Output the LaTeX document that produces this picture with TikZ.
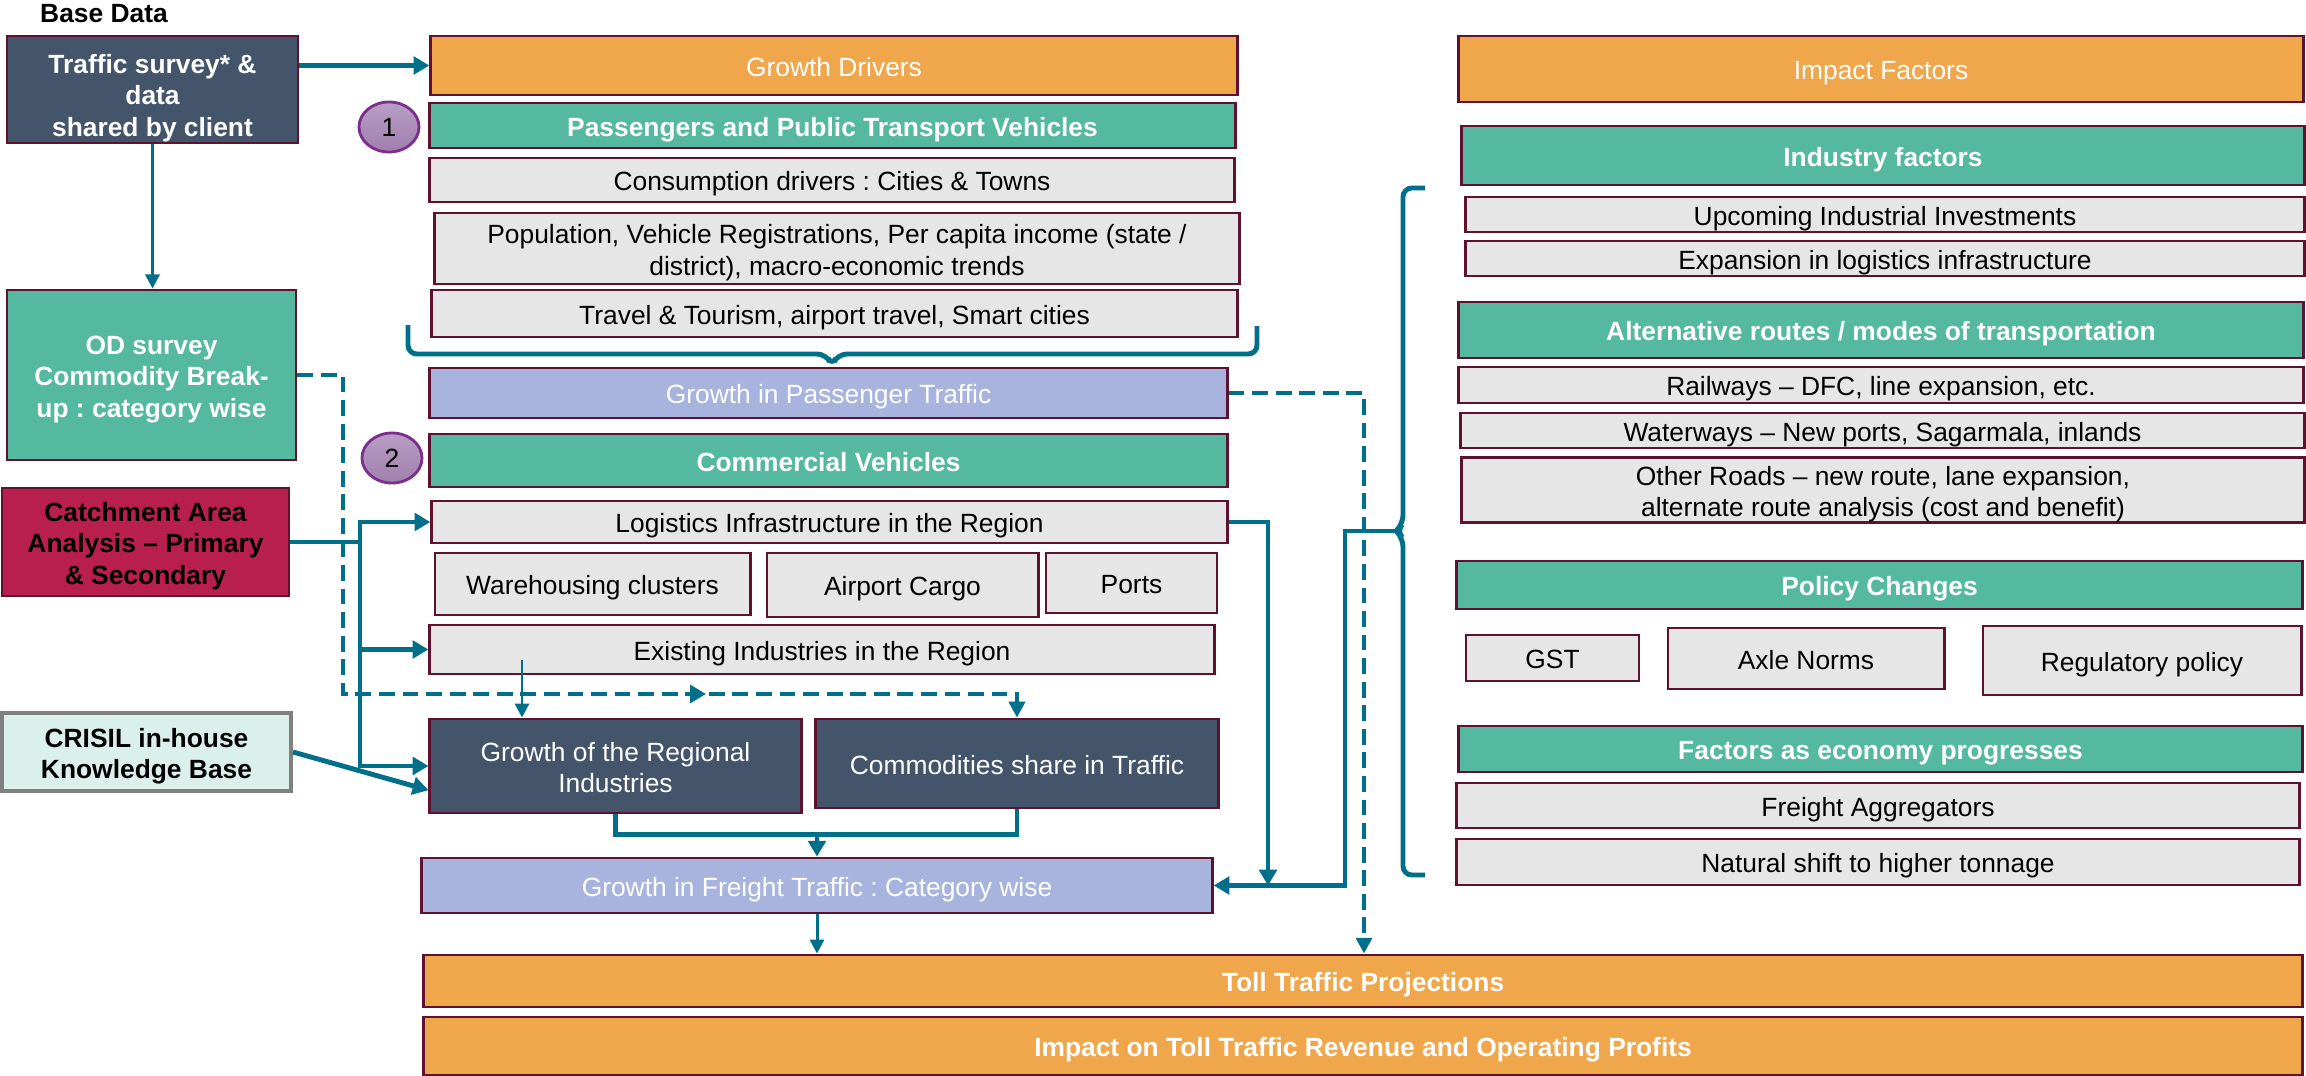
\documentclass[tikz,border=0pt]{standalone}
\usepackage{fontspec}
\setmainfont{Liberation Sans}
\usetikzlibrary{arrows.meta,shapes.geometric,calc,decorations.markings}
\frenchspacing
\definecolor{bord}{RGB}{94,18,48}
\definecolor{orng}{RGB}{240,166,75}
\definecolor{tealc}{RGB}{84,185,158}
\definecolor{lgray}{RGB}{231,230,230}
\definecolor{lav}{RGB}{168,180,222}
\definecolor{slate}{RGB}{68,84,106}
\definecolor{crim}{RGB}{184,31,78}
\definecolor{mint}{RGB}{220,240,235}
\definecolor{gborder}{RGB}{128,128,128}
\definecolor{conc}{RGB}{0,111,138}
\definecolor{circtop}{RGB}{184,158,196}
\definecolor{circbot}{RGB}{160,127,174}
\definecolor{circb}{RGB}{123,46,140}
\newcommand\fs{\fontsize{7.5}{9}\selectfont}
\newcommand\sttop{\rule{0pt}{7.92pt}}
\newcommand\stbot{\rule[-1.7pt]{0pt}{1.7pt}}
\newcommand\sttopb{\rule{0pt}{10.47pt}}
\newcommand\bx[7]{\node[#1, minimum width={(#5-#3)*0.28453pt}, minimum height={(#6-#4)*0.28453pt}] (#2) at ({(#3+#5)/2},{(#4+#6)/2}) {\sttop#7\stbot};}
\begin{document}
\begin{tikzpicture}[x=0.01cm,y=-0.01cm,
  bxs/.style={draw=bord,line width=0.8pt,inner sep=0pt,align=center,font=\fs},
  orangebox/.style={bxs,fill=orng,text=white},
  orangebold/.style={bxs,fill=orng,text=white,font=\fs\bfseries},
  tealbox/.style={bxs,fill=tealc,text=white,font=\fs\bfseries},
  greybox/.style={bxs,fill=lgray,text=black},
  lavbox/.style={bxs,fill=lav,text=white},
  slatebox/.style={bxs,fill=slate,text=white},
  slatebold/.style={bxs,fill=slate,text=white,font=\fs\bfseries},
  crimbox/.style={bxs,fill=crim,text=black,font=\fs\bfseries},
  mintbox/.style={bxs,draw=gborder,line width=1.1pt,fill=mint,text=black,font=\fs\bfseries},
  numcirc/.style={ellipse,draw=circb,line width=0.8pt,top color=circtop,bottom color=circbot,minimum width={60*0.28453pt},minimum height={50*0.28453pt},inner sep=0pt,font=\fs},
  line/.style={draw=conc,line width=1.4pt},
  conn/.style={line,-{Triangle[length=4.5pt,width=5pt]}},
  tconn/.style={draw=conc,line width=0.85pt,-{Triangle[length=4pt,width=4pt]}},
  dconn/.style={draw=conc,line width=1.3pt,dash pattern=on 4.5pt off 2.2pt,-{Triangle[length=4.5pt,width=4.5pt]}},
  bracestyle/.style={draw=conc,line width=1.4pt,rounded corners=2.5pt}
]
\useasboundingbox (0,0) rectangle (2306,1076);

% ---------- left column ----------
\node[font=\fs\bfseries,inner sep=0pt] (basedata) at (104,14) {Base Data};
\bx{slatebold}{traffic}{7}{36}{298}{143}{\sttopb Traffic survey* \&\\data\\shared by client}
\bx{tealbox}{od}{7}{290}{296}{460}{OD survey\\Commodity Break-\\up : category wise}
\bx{crimbox}{catch}{2}{488}{289}{596}{Catchment Area\\Analysis – Primary\\\& Secondary}
\bx{mintbox}{crisil}{2}{713}{291}{791}{CRISIL in-house\\Knowledge Base}

% ---------- middle column ----------
\bx{orangebox}{gd}{431}{36}{1237}{95}{Growth Drivers}
\node[numcirc] (c1) at (389,127) {1};
\bx{tealbox}{pass}{430}{103}{1235}{148}{Passengers and Public Transport Vehicles}
\bx{greybox}{cons}{430}{158}{1234}{202}{Consumption drivers : Cities \& Towns}
\bx{greybox}{pop}{435}{213}{1239}{284}{Population, Vehicle Registrations, Per capita income (state /\\district), macro-economic trends}
\bx{greybox}{trav}{432}{290}{1237}{337}{Travel \& Tourism, airport travel, Smart cities}
\bx{lavbox}{pgt}{430}{368}{1227}{418}{Growth in Passenger Traffic}
\node[numcirc] (c2) at (392,458) {2};
\bx{tealbox}{cv}{430}{434}{1227}{487}{Commercial Vehicles}
\bx{greybox}{logi}{432}{501}{1227}{543}{Logistics Infrastructure in the Region}
\bx{greybox}{ware}{435}{553}{750}{615}{Warehousing clusters}
\bx{greybox}{air}{767}{553}{1038}{617}{Airport Cargo}
\bx{greybox}{ports}{1046}{553}{1217}{613}{Ports}
\bx{greybox}{exist}{430}{625}{1214}{674}{Existing Industries in the Region}
\bx{slatebox}{grow}{430}{719}{801}{813}{Growth of the Regional\\Industries}
\bx{slatebox}{commod}{816}{719}{1218}{808}{Commodities share in Traffic}
\bx{lavbox}{freight}{422}{858}{1212}{913}{Growth in Freight Traffic : Category wise}
\bx{orangebold}{toll}{424}{955}{2302}{1007}{Toll Traffic Projections}
\bx{orangebold}{impact}{424}{1017}{2302}{1075}{Impact on Toll Traffic Revenue and Operating Profits}

% ---------- right column ----------
\bx{orangebox}{impf}{1459}{36}{2303}{102}{Impact Factors}
\bx{tealbox}{indf}{1462}{126}{2304}{185}{Industry factors}
\bx{greybox}{upc}{1466}{197}{2304}{232}{Upcoming Industrial Investments}
\bx{greybox}{expn}{1466}{241}{2304}{276}{Expansion in logistics infrastructure}
\bx{tealbox}{alt}{1459}{302}{2303}{358}{Alternative routes / modes of transportation}
\bx{greybox}{rail}{1459}{367}{2303}{403}{Railways – DFC, line expansion, etc.}
\bx{greybox}{water}{1461}{413}{2304}{448}{Waterways – New ports, Sagarmala, inlands}
\bx{greybox}{other}{1462}{459}{2304}{521}{Other Roads – new route, lane expansion,\\alternate route analysis (cost and benefit)}
\bx{tealbox}{policy}{1457}{561}{2302}{609}{Policy Changes}
\bx{greybox}{gst}{1466}{635}{1639}{681}{GST}
\bx{greybox}{axle}{1668}{628}{1944}{689}{Axle Norms}
\bx{greybox}{reg}{1983}{626}{2301}{695}{Regulatory policy}
\bx{tealbox}{econ}{1459}{726}{2302}{772}{Factors as economy progresses}
\bx{greybox}{fagg}{1457}{783}{2299}{828}{Freight Aggregators}
\bx{greybox}{nat}{1457}{839}{2299}{885}{Natural shift to higher tonnage}

% ---------- braces ----------
\draw[bracestyle] (408,325) -- (408,354) -- (826,354) -- (832,366) -- (838,354) -- (1257,354) -- (1257,326);
\draw[bracestyle] (1425,188) -- (1403,188) -- (1403,524) -- (1396,531) -- (1403,538) -- (1403,875) -- (1425,875);

% ---------- coordinates ----------
\coordinate (tr) at (360,542);
\coordinate (ocol) at (343,375);
\coordinate (ocol2) at (343,694);
\coordinate (pcol) at (1364,393);
\coordinate (lcol) at (1268,522);
\coordinate (btip) at (1397,531);
\coordinate (rcol) at (1345,531);
\coordinate (mj) at ($(freight.north)+(0,-22)$);
\coordinate (eg) at ($(grow.north west)!0.25!(grow.north east)$);
\coordinate (cg) at ($(grow.south west)!0.25!(grow.north west)$);

% ---------- connectors ----------
\draw[conn] (traffic.east |- gd.west) -- (gd.west);
\draw[tconn] (traffic.south) -- (traffic.south |- od.north);
\draw[line] (catch.east) -- (tr);
\draw[conn] (tr) |- (logi.west);
\draw[conn] (tr) |- (exist.west);
\draw[conn] (tr) |- (grow.west);
\draw[conn] (crisil.east) -- (cg);
\draw[tconn] ($(eg |- exist.center)+(0,10)$) -- (eg);
\draw[dconn,
  postaction={decorate,decoration={markings,mark=at position 0.685 with {\arrow{Triangle[length=4.5pt,width=5pt]}}}}]
  (od.east) -- (ocol) -- (ocol2) -- (ocol2 -| commod.north) -- (commod.north);
\draw[line] (grow.south) |- (mj);
\draw[line] (commod.south) |- (mj);
\draw[conn] (mj) -- (freight.north);
\draw[tconn] (freight.south) -- (freight.south |- toll.north);
\draw[dconn] (pgt.east) -- (pcol) -- (pcol |- toll.north);
\draw[conn] (logi.east) -| (lcol |- freight.east);
\draw[conn] (btip) -- (rcol) |- (freight.east);
\end{tikzpicture}
\end{document}
